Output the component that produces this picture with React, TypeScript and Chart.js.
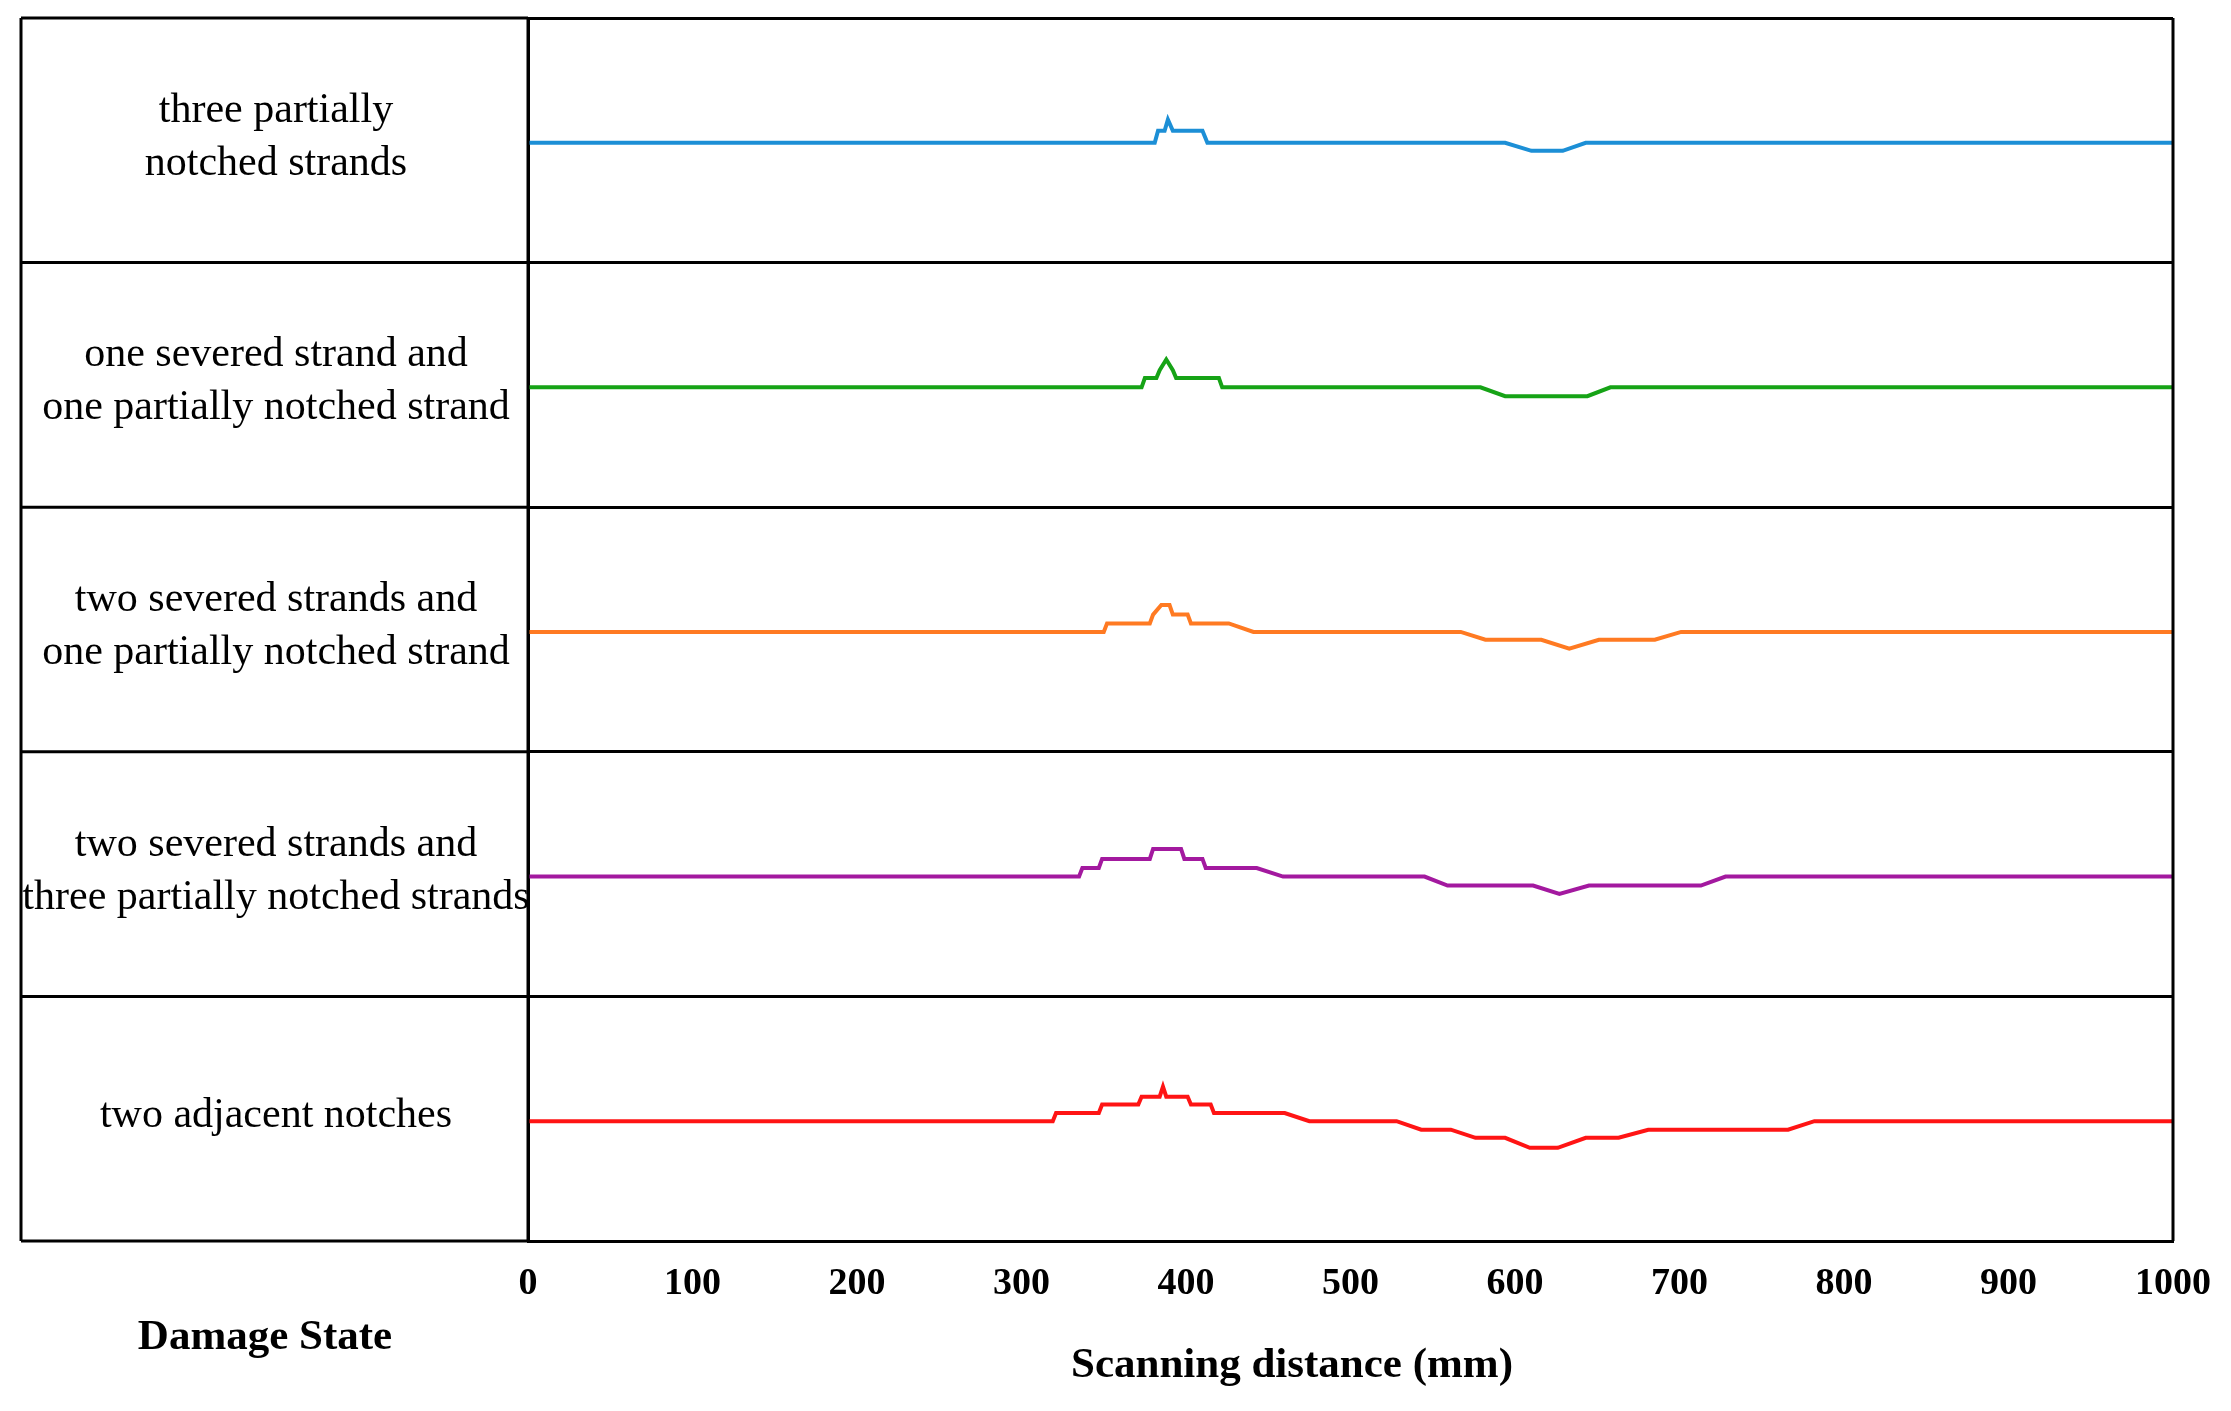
import React, { useEffect, useRef } from "react";
import { Chart, registerables } from "chart.js";
Chart.register(...registerables);

const rowLabels = [
  ["three partially", "notched strands"],
  ["one severed strand and", "one partially notched strand"],
  ["two severed strands and", "one partially notched strand"],
  ["two severed strands and", "three partially notched strands"],
  ["two adjacent notches"],
];
const colors = ["#1c8fd6", "#16a316", "#ff7a22", "#a3199f", "#ff1414"];
const baselines = [449, 349, 249, 149, 49];

const blueX = [0, 381, 383, 387, 389, 392, 394, 410, 413, 594, 610, 629, 643, 1000];
const blueY = [0, 0, 4.9, 4.9, 9.5, 4.9, 4.9, 4.9, 0, 0, -3.3, -3.3, 0, 0];
const greenX = [0, 373, 375, 382, 384, 388, 392, 394, 397, 420, 422, 579, 594, 644, 658, 1000];
const greenY = [0, 0, 3.8, 3.8, 7, 11.4, 7, 3.8, 3.8, 3.8, 0, 0, -3.6, -3.6, 0, 0];
const orangeX = [0, 350, 352, 378, 380, 385, 390, 392, 394, 401, 403, 426, 441, 567, 582, 616, 633, 651, 685, 701, 1000];
const orangeY = [0, 0, 3.5, 3.5, 7.1, 11, 11, 7.1, 7.1, 7.1, 3.5, 3.5, 0, 0, -3.2, -3.2, -6.8, -3.2, -3.2, 0, 0];
const purpleX = [0, 335, 337, 347, 349, 378, 380, 397, 399, 410, 412, 443, 459, 545, 559, 611, 627, 645, 713, 728, 1000];
const purpleY = [0, 0, 3.5, 3.5, 7.2, 7.2, 11.3, 11.3, 7.2, 7.2, 3.5, 3.5, 0, 0, -3.7, -3.7, -7.1, -3.7, -3.7, 0, 0];
const redX = [0, 319, 321, 347, 349, 371, 373, 384, 386, 388, 401, 403, 415, 417, 460, 475, 528, 543, 561, 576, 594, 609, 626, 643, 663, 681, 766, 782, 1000];
const redY = [0, 0, 3.3, 3.3, 6.8, 6.8, 10, 10, 14.1, 10, 10, 6.8, 6.8, 3.3, 3.3, 0, 0, -3.5, -3.5, -6.8, -6.8, -10.9, -10.9, -6.8, -6.8, -3.5, -3.5, 0, 0];
const seriesX = [blueX, greenX, orangeX, purpleX, redX];
const seriesY = [blueY, greenY, orangeY, purpleY, redY];

const xTitle = "Scanning distance (mm)";
const yTitle = "Damage State";

const tablePlugin = {
  id: "tablePlugin",
  afterDraw(chart: any) {
    const { ctx, chartArea, scales } = chart;
    const ys = scales.y;
    const left = 21;
    ctx.save();
    ctx.strokeStyle = "#000";
    ctx.lineWidth = 3;
    for (let v = 0; v <= 500; v += 100) {
      const y = ys.getPixelForValue(v);
      ctx.beginPath();
      ctx.moveTo(left, y);
      ctx.lineTo(chartArea.left, y);
      ctx.stroke();
    }
    ctx.beginPath();
    ctx.moveTo(left, ys.getPixelForValue(500));
    ctx.lineTo(left, ys.getPixelForValue(0));
    ctx.moveTo(chartArea.left, chartArea.top);
    ctx.lineTo(chartArea.left, chartArea.bottom);
    ctx.moveTo(chartArea.right, chartArea.top);
    ctx.lineTo(chartArea.right, chartArea.bottom);
    ctx.stroke();
    ctx.fillStyle = "#000";
    ctx.textAlign = "center";
    ctx.textBaseline = "middle";
    ctx.font = "42px 'Liberation Serif'";
    rowLabels.forEach((lines, i) => {
      const yc = ys.getPixelForValue(450 - i * 100) - 3;
      const lh = 53;
      lines.forEach((t, j) => {
        ctx.fillText(t, 276, yc + (j - (lines.length - 1) / 2) * lh);
      });
    });
    ctx.font = "bold 43px 'Liberation Serif'";
    ctx.fillText(yTitle, 265, 1338);
    ctx.fillText(xTitle, 1292, 1366);
    ctx.restore();
  },
};

export default function App() {
  const ref = useRef<HTMLCanvasElement>(null);
  useEffect(() => {
    document.body.style.margin = "0";
    const chart = new Chart(ref.current!, {
      type: "line",
      data: {
        datasets: seriesX.map((xs, i) => ({
          data: xs.map((x, k) => ({ x, y: baselines[i] + seriesY[i][k] })),
          borderColor: colors[i],
          borderWidth: 4,
          pointRadius: 0,
          tension: 0,
        })),
      },
      options: {
        animation: false,
        responsive: false,
        devicePixelRatio: 1,
        layout: { padding: { left: 528, right: 58, top: 18, bottom: 0 } },
        plugins: { legend: { display: false }, tooltip: { enabled: false } },
        scales: {
          x: {
            type: "linear",
            min: 0,
            max: 1000,
            ticks: {
              stepSize: 100,
              color: "#000",
              padding: 12,
              callback: (v: any) => String(v),
              font: { family: "'Liberation Serif'", size: 38, weight: "bold" },
            },
            grid: { display: false },
            border: { color: "#000", width: 3 },
            afterFit: (a: any) => { a.height = 170; },
          },
          y: {
            min: 0,
            max: 500,
            ticks: { stepSize: 100, display: false },
            grid: { color: "#000", lineWidth: 3, drawTicks: false },
            border: { color: "#000", width: 3 },
            afterFit: (a: any) => { a.width = 0; },
          },
        },
      },
      plugins: [tablePlugin],
    } as any);
    return () => chart.destroy();
  }, []);
  return (
    <div style={{ position: "absolute", left: 0, top: 0, width: 2231, height: 1411, background: "#fff" }}>
      <canvas ref={ref} width={2231} height={1411} />
    </div>
  );
}
